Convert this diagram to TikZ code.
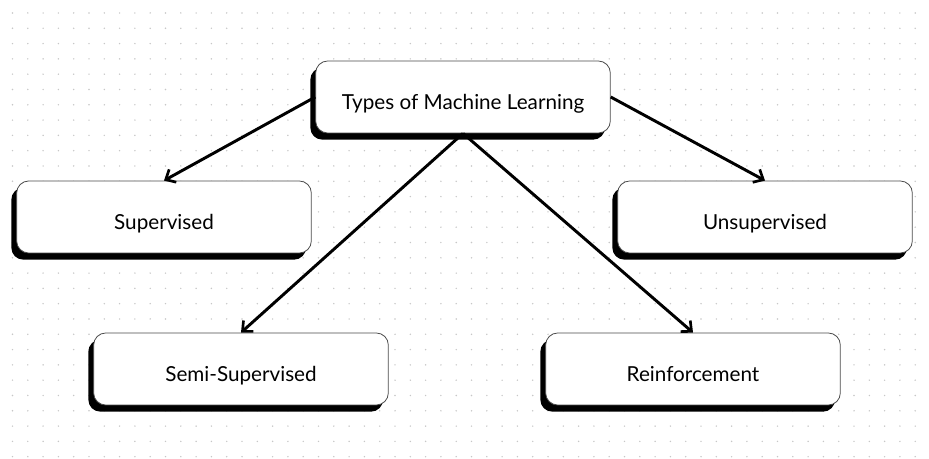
\documentclass[tikz,border=0pt]{standalone}
\usepackage{fontspec}
\setmainfont{Lato}
\usepackage{tikz}
\usetikzlibrary{arrows.meta,shadows}

\tikzset{
  typebox/.style={draw=black!70, line width=0.6pt, fill=white, rounded corners=9pt,
    minimum width=221pt, minimum height=54pt, font=\fontsize{15.5}{18}\selectfont,
    text height=19pt, text depth=0pt,
    drop shadow={shadow xshift=-4pt, shadow yshift=-5pt, fill=black, opacity=1}},
  typearrow/.style={line width=2.2pt, -{Straight Barb[length=6pt,width=11pt,line width=2pt]}},
}

\begin{document}
\begin{tikzpicture}[x=0.75pt,y=-0.75pt]
\def\gap{15.3};
\useasboundingbox[fill=white] (0,0) rectangle (929,459);

% dotted paper %
\foreach \i in {0,...,59} {
  \foreach \j in {0,...,29} {
    \fill[black!22] ({12.5+\i*\gap},{13+\j*\gap}) circle (0.8);
  }
}

\node[typebox] (types) at (463,97) {Types of Machine Learning};
\node[typebox] (sup) at (164,217) {Supervised};
\node[typebox] (unsup) at (765,217) {Unsupervised};
\node[typebox] (semi) at (241,369) {Semi-Supervised};
\node[typebox] (reinf) at (693,369) {Reinforcement};

% arrows from the root %
\draw[typearrow] (types.west) -- (sup.north);
\draw[typearrow] (types.east) -- (unsup.north);
\draw[typearrow] (types.south) -- (semi.north);
\draw[typearrow] (types.south) -- (reinf.north);
\end{tikzpicture}
\end{document}
